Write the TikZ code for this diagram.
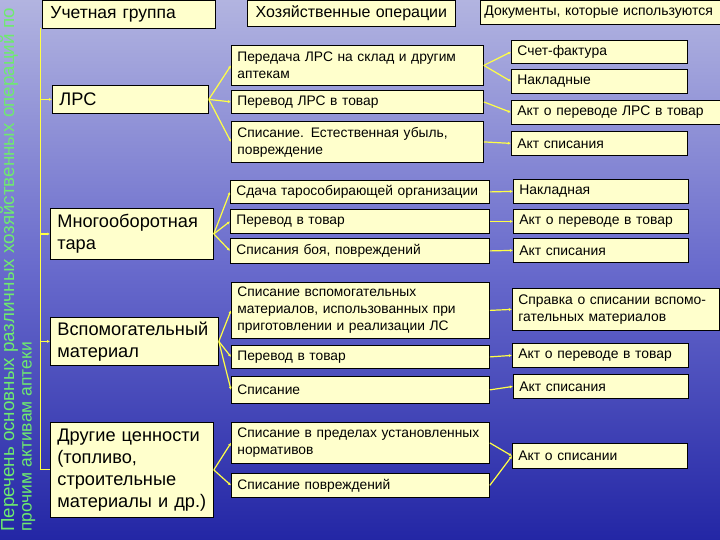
\documentclass[tikz,border=0pt]{standalone}
\usepackage{fontspec}
\setmainfont{Liberation Sans}
\usetikzlibrary{arrows.meta}
\definecolor{boxfill}{RGB}{255,255,204}
\definecolor{conn}{RGB}{255,255,70}
\definecolor{titlegreen}{RGB}{110,235,110}
\definecolor{bgtop}{RGB}{178,180,224}
\definecolor{bgmid}{RGB}{104,106,204}
\definecolor{bgbot}{RGB}{35,38,165}
\begin{document}
\begin{tikzpicture}[x=1pt,y=-1pt,
 box/.style={draw=black, line width=0.8pt, fill=boxfill, anchor=north west, inner xsep=6pt, inner ysep=0pt, align=left, font=\fontsize{13.8}{17}\selectfont},
 grp/.style={box, font=\fontsize{18.2}{22}\selectfont, inner xsep=7pt},
 doc/.style={box, font=\fontsize{13.9}{16.5}\selectfont, inner xsep=6pt},
 link/.style={draw=conn, line width=1.2pt, -{Latex[length=3pt,width=3pt]}},
 trunk/.style={draw=conn, line width=0.9pt}]
\useasboundingbox (0,0) rectangle (720,540);
\shade[top color=bgtop, bottom color=bgbot, middle color=bgmid] (0,0) rectangle (720,540);

% vertical title
\node[rotate=90, anchor=north west, inner sep=0pt, text=titlegreen,
  font=\fontsize{18.8}{21}\selectfont] (title1) at (0,532)
  {Перечень основных различных хозяйственных операций по};
\node[rotate=90, anchor=north west, inner sep=0pt, text=titlegreen,
  font=\fontsize{17.5}{21}\selectfont] (title2) at (22,532)
  {прочим активам аптеки};

% headers
\node[box, font=\fontsize{17.5}{20}\selectfont, inner xsep=8pt, minimum width=173, text width=157, minimum height=28] (hG) at (42,0) {Учетная группа};
\node[box, font=\fontsize{16}{19}\selectfont, align=center, minimum width=208, text width=196, minimum height=26] (hO) at (247,0) {Хозяйственные операции};
\node[box, font=\fontsize{14}{16}\selectfont, inner xsep=4pt, minimum width=242, text width=234, minimum height=24] (hD) at (480,0) {Документы, которые используются};

% groups
\node[grp, minimum width=156, text width=142, minimum height=28] (gL) at (52,85) {ЛРС};
\node[grp, minimum width=163, text width=149, minimum height=51] (gM) at (50,208) {Многооборотная\\тара};
\node[grp, minimum width=168, text width=154, minimum height=48] (gV) at (50,317) {Вспомогательный\\материал};
\node[grp, minimum width=163, text width=149, minimum height=95] (gD) at (50,422) {Другие ценности\\(топливо,\\строительные\\материалы и др.)};

% operations
\node[box, minimum width=252, text width=240, minimum height=40] (o1) at (231,45) {Передача ЛРС на склад и другим\\аптекам};
\node[box, minimum width=252, text width=240, minimum height=23] (o2) at (231,90) {Перевод ЛРС в товар};
\node[box, minimum width=252, text width=240, minimum height=41] (o3) at (231,121) {Списание. Естественная убыль,\\повреждение};
\node[box, minimum width=259, text width=247, minimum height=23] (o4) at (230,180) {Сдача тарособирающей организации};
\node[box, minimum width=259, text width=247, minimum height=24] (o5) at (230,209) {Перевод в товар};
\node[box, minimum width=259, text width=247, minimum height=25] (o6) at (230,238) {Списания боя, повреждений};
\node[box, minimum width=258, text width=246, minimum height=56] (o7) at (231,282) {Списание вспомогательных\\материалов, использованных при\\приготовлении и реализации ЛС};
\node[box, minimum width=258, text width=246, minimum height=23] (o8) at (231,345) {Перевод в товар};
\node[box, minimum width=258, text width=246, minimum height=27] (o9) at (231,376) {Списание};
\node[box, minimum width=258, text width=246, minimum height=41] (o10) at (231,422) {Списание в пределах установленных\\нормативов};
\node[box, minimum width=258, text width=246, minimum height=24] (o11) at (231,473) {Списание повреждений};

% documents
\node[doc, minimum width=176, text width=164, minimum height=23] (d1) at (511,40) {Счет-фактура};
\node[doc, minimum width=176, text width=164, minimum height=24] (d2) at (511,69) {Накладные};
\node[doc, minimum width=209, text width=197, minimum height=24] (d3) at (511,100) {Акт о переводе ЛРС в товар};
\node[doc, minimum width=176, text width=164, minimum height=24] (d4) at (511,131) {Акт списания};
\node[doc, minimum width=175, text width=163, minimum height=24] (d5) at (513,179) {Накладная};
\node[doc, minimum width=175, text width=163, minimum height=24] (d6) at (513,209) {Акт о переводе в товар};
\node[doc, minimum width=175, text width=163, minimum height=24] (d7) at (513,238) {Акт списания};
\node[doc, minimum width=207, text width=195, minimum height=42] (d8) at (512,288) {Справка о списании вспомо-\\гательных материалов};
\node[doc, minimum width=176, text width=164, minimum height=24] (d9) at (512,343) {Акт о переводе в товар};
\node[doc, minimum width=175, text width=163, minimum height=24] (d10) at (513,374) {Акт списания};
\node[doc, minimum width=175, text width=163, minimum height=25] (d11) at (512,443) {Акт о списании};

% trunk
\coordinate (top) at (40,28);
\draw[trunk] (top) |- (gD.west);
\draw[link] (top |- gL.west) -- (gL.west);
\draw[link] (top |- gM.west) -- (gM.west);
\draw[link] (top |- gV.west) -- (gV.west);

% group -> operations
\foreach \o in {o1,o2,o3} \draw[link] (gL.east) -- (\o.west);
\foreach \o in {o4,o5,o6} \draw[link] (gM.east) -- (\o.west);
\foreach \o in {o7,o8,o9} \draw[link] (gV.east) -- (\o.west);
\foreach \o in {o10,o11} \draw[link] (gD.east) -- (\o.west);

% operations -> documents
\draw[link] (o1.east) -- (d1.west);
\draw[link] (o1.east) -- (d2.west);
\draw[link] (o2.east) -- (d3.west);
\draw[link] (o3.east) -- (d4.west);
\draw[link] (o4.east) -- (d5.west);
\draw[link] (o5.east) -- (d6.west);
\draw[link] (o6.east) -- (d7.west);
\draw[link] (o7.east) -- (d8.west);
\draw[link] (o8.east) -- (d9.west);
\draw[link] (o9.east) -- (d10.west);
\draw[link] (o10.east) -- (d11.west);
\draw[link] (o11.east) -- (d11.west);
\end{tikzpicture}
\end{document}
